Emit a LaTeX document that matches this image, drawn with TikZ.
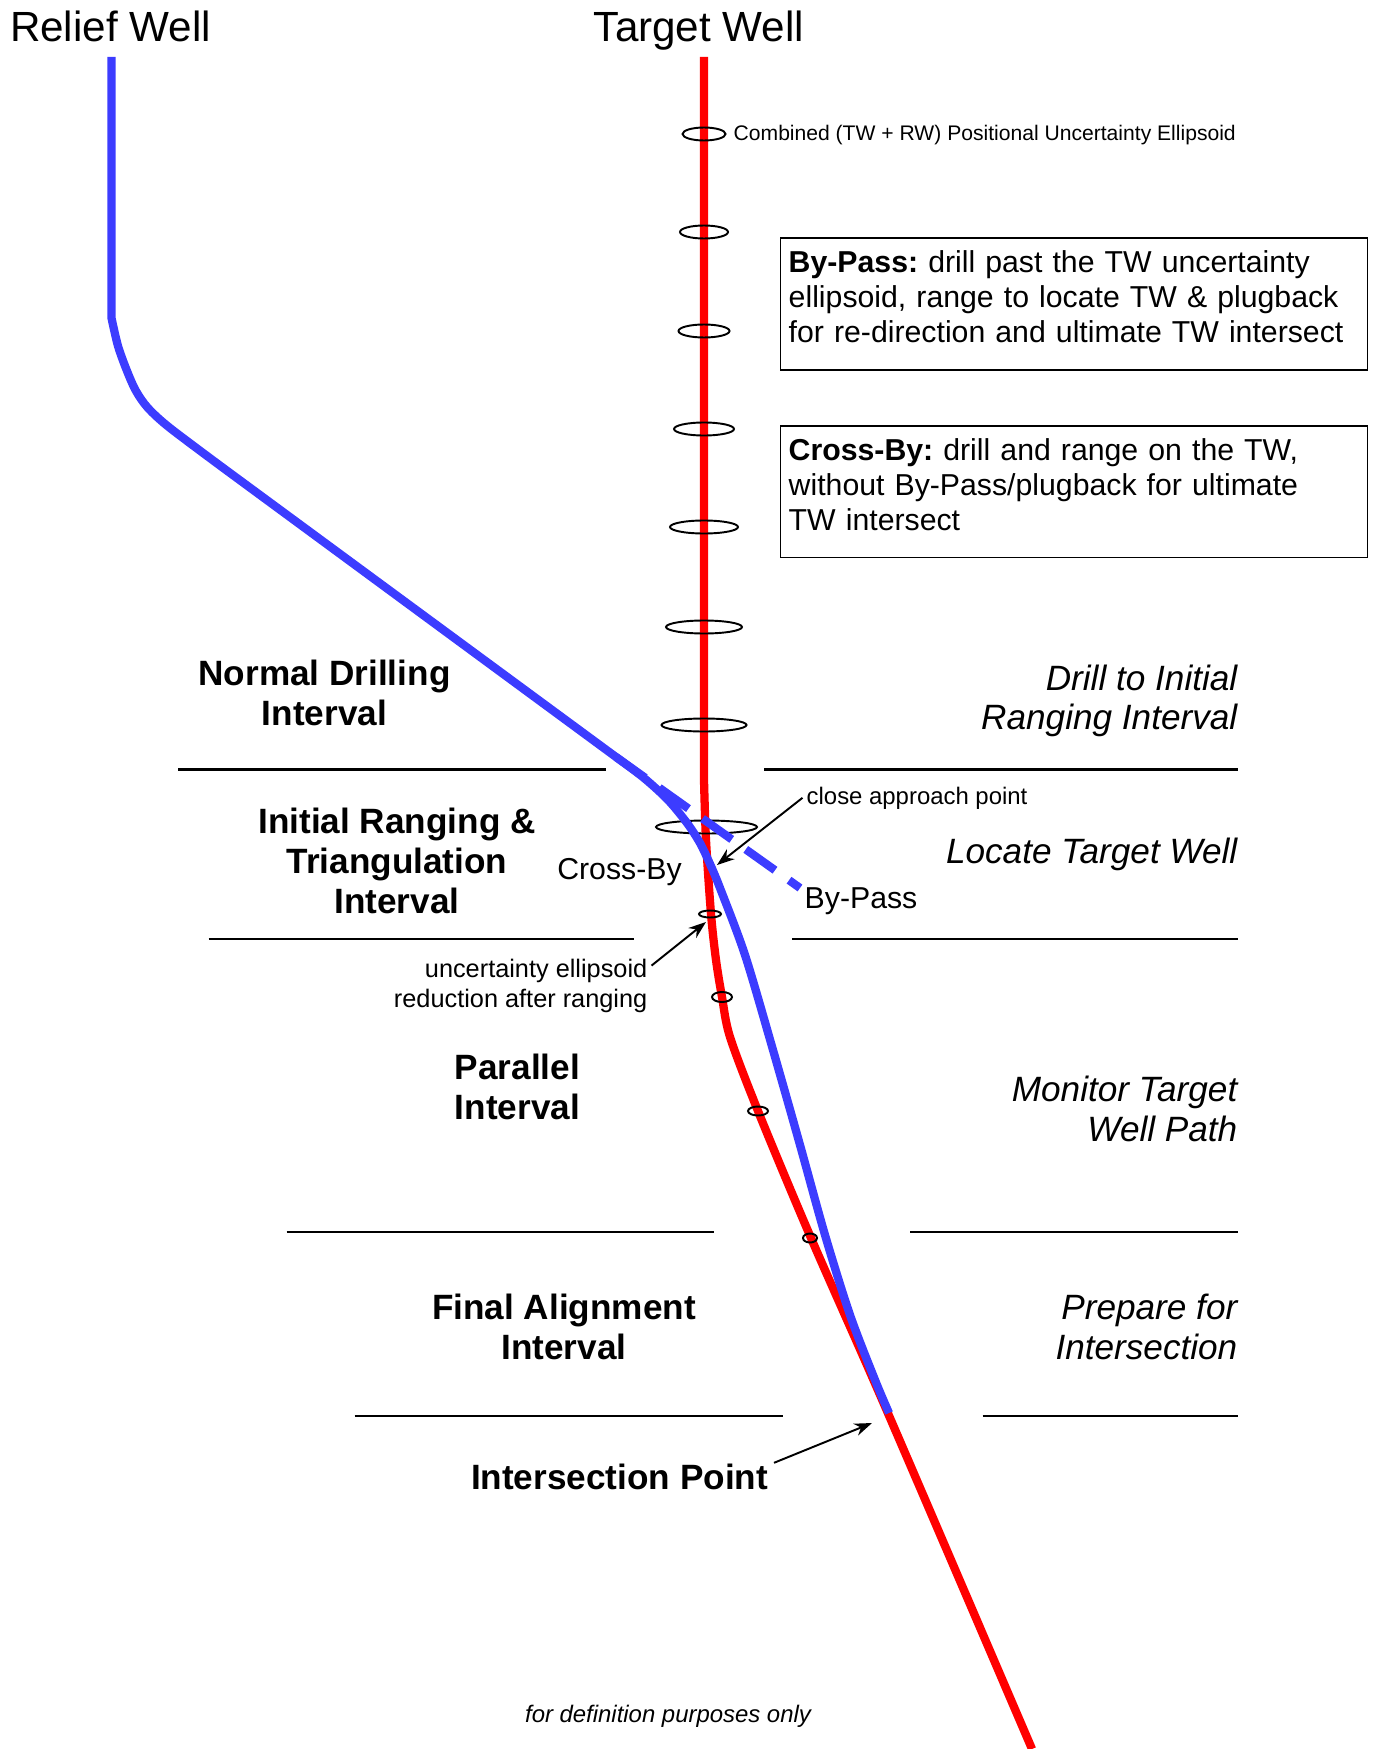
\documentclass[tikz,border=0pt]{standalone}
\usepackage{fontspec}
\setmainfont{Liberation Sans}
\usetikzlibrary{arrows.meta,calc}
\definecolor{wInk}{HTML}{000000}
\definecolor{wRelief}{HTML}{3C3CFF}
\definecolor{wTarget}{HTML}{FF0000}
\frenchspacing

\begin{document}
\begin{tikzpicture}[
  x=0.01cm, y=-0.01cm,
  text=wInk,
  >={Stealth[length=5pt, width=3.6pt]},
  well/.style={line width=2.35pt},
  rw/.style={well, draw=wRelief},
  tw/.style={well, draw=wTarget},
  bypass/.style={rw, dash pattern=on 10.2pt off 4.9pt},
  uell/.style={draw=wInk, line width=0.55pt},
  sep/.style={draw=wInk, line width=0.75pt},
  ptr/.style={->, draw=wInk, line width=0.55pt},
  head/.style={font=\fontsize{12}{14}\selectfont, inner sep=0pt, anchor=base},
  ivl/.style={font=\fontsize{10}{11.4}\selectfont\bfseries, align=center, inner sep=0pt},
  task/.style={font=\fontsize{10}{11.2}\selectfont\itshape, align=right, anchor=east, inner sep=0pt},
  tbox/.style={draw=wInk, line width=0.45pt, anchor=north west, align=left,
               text width=5.7cm, inner xsep=2.4pt, inner ysep=3.5pt,
               font=\fontsize{8.6}{10}\selectfont},
  lbl/.style={font=\fontsize{8.6}{10}\selectfont, inner sep=0pt},
  note/.style={font=\fontsize{6.8}{8}\selectfont, inner sep=0pt},
  tiny/.style={font=\fontsize{6}{7}\selectfont, inner sep=0pt},
]
\useasboundingbox (0,0) rectangle (1375,1749);

% interval separators
\draw[sep] (178,769.5) -- (605.6,769.5);
\draw[sep] (764,769.5) -- (1238,769.5);
\draw[sep] (208.5,939) -- (633.5,939);
\draw[sep] (792,939) -- (1238,939);
\draw[sep] (286.6,1232) -- (713.7,1232);
\draw[sep] (910,1232) -- (1238,1232);
\draw[sep] (354.6,1416) -- (783,1416);
\draw[sep] (982.5,1416) -- (1238,1416);

% target well
\draw[tw] (704,57) -- plot[smooth] coordinates {(704,780) (706,840) (711,914) (716,960)
  (722,997) (730,1037) (758,1111) (811,1238) (887,1411) (1032,1749)};

% uncertainty ellipsoids along the target well
\draw[uell] (704,134) ellipse [x radius=21.5, y radius=6.5];
\draw[uell] (704,232) ellipse [x radius=24, y radius=6.5];
\draw[uell] (704,331) ellipse [x radius=25.5, y radius=6.5];
\draw[uell] (704,429) ellipse [x radius=30, y radius=6.5];
\draw[uell] (704,527) ellipse [x radius=34, y radius=6.5];
\draw[uell] (704,627) ellipse [x radius=38, y radius=6.5];
\draw[uell] (704,725) ellipse [x radius=42.5, y radius=6.5];
\draw[uell] (706.5,827) ellipse [x radius=50.5, y radius=6.5];
\draw[uell] (710,914) ellipse [x radius=11, y radius=3.5];
\draw[uell] (722,997) ellipse [x radius=10, y radius=5];
\draw[uell] (758,1111) ellipse [x radius=10, y radius=4.5];
\draw[uell] (810,1238) ellipse [x radius=7, y radius=4.5];

% relief well, cross-by and by-pass
\draw[rw] (111.5,57) -- plot[smooth] coordinates {(111.5,318) (118,346) (127,371) (136,391)
  (148,408) (170,428) (226,470)}
  -- plot[smooth] coordinates {(616,757) (644,778) (668,800) (687,823) (700,843) (710,864)
  (720,888) (745,955) (773,1050) (800,1145) (825,1235) (850,1315) (875,1380) (889,1413)};
\draw[bypass] (616,757) -- (800,888);

% headings
\node[head] (rwt) at (110.5,42) {Relief Well};
\node[head] (twt) at (699,42) {Target Well};
\node[tiny, anchor=base west] (comb) at (733,141)
  {Combined (TW + RW) Positional Uncertainty Ellipsoid};

% definitions
\node[tbox] (bpbox) at (779.5,237.5) {\textbf{By-Pass:} drill past the TW uncertainty\\
  ellipsoid, range to locate TW \& plugback\\
  for re-direction and ultimate TW intersect\rule[-4.2pt]{0pt}{4.2pt}};
\node[tbox] (cbbox) at (779.5,425) {\textbf{Cross-By:} drill and range on the TW,\\
  without By-Pass/plugback for ultimate\\ TW intersect\rule[-4.2pt]{0pt}{4.2pt}};

% intervals (left) and tasks (right)
\node[ivl] (nd) at (324.5,693) {Normal Drilling\\Interval};
\node[ivl] (ir) at (397,861) {Initial Ranging \&\\Triangulation\\Interval};
\node[ivl] (pi) at (517.5,1087) {Parallel\\Interval};
\node[ivl] (fa) at (564,1327) {Final Alignment\\Interval};
\node[ivl, anchor=base] (hit) at (619.5,1489) {Intersection Point};

\node[task] (drill) at (1238,701) {Drill to Initial\\Ranging Interval};
\node[task, anchor=base east] (locate) at (1238,863) {Locate Target Well};
\node[task] (monitor) at (1238,1109) {Monitor Target\\Well Path};
\node[task] (prepare) at (1238,1327) {Prepare for\\Intersection};

% path labels and callouts
\node[lbl, anchor=base] (cb) at (619.5,879) {Cross-By};
\node[lbl, anchor=base west] (bp) at (804,908) {By-Pass};
\node[note, anchor=base west] (capp) at (806,804) {close approach point};
\node[note, font=\fontsize{7.2}{8.5}\selectfont, align=right, anchor=east] (unc)
  at (648,986) {uncertainty ellipsoid\\reduction after ranging};
\node[note, font=\fontsize{6.8}{8}\selectfont\itshape, anchor=base] (defn)
  at (668,1722) {for definition purposes only};

\coordinate (capT) at (717,865);
\coordinate (redT) at (706,922);
\coordinate (hitT) at (872,1423);
\draw[ptr] ([xshift=-1pt]capp.west) -- (capT);
\draw[ptr] ([shift={(1pt,-2pt)}]unc.north east) -- (redT);
\draw[ptr] ([xshift=1.5pt]hit.north east) -- (hitT);

\end{tikzpicture}
\end{document}
